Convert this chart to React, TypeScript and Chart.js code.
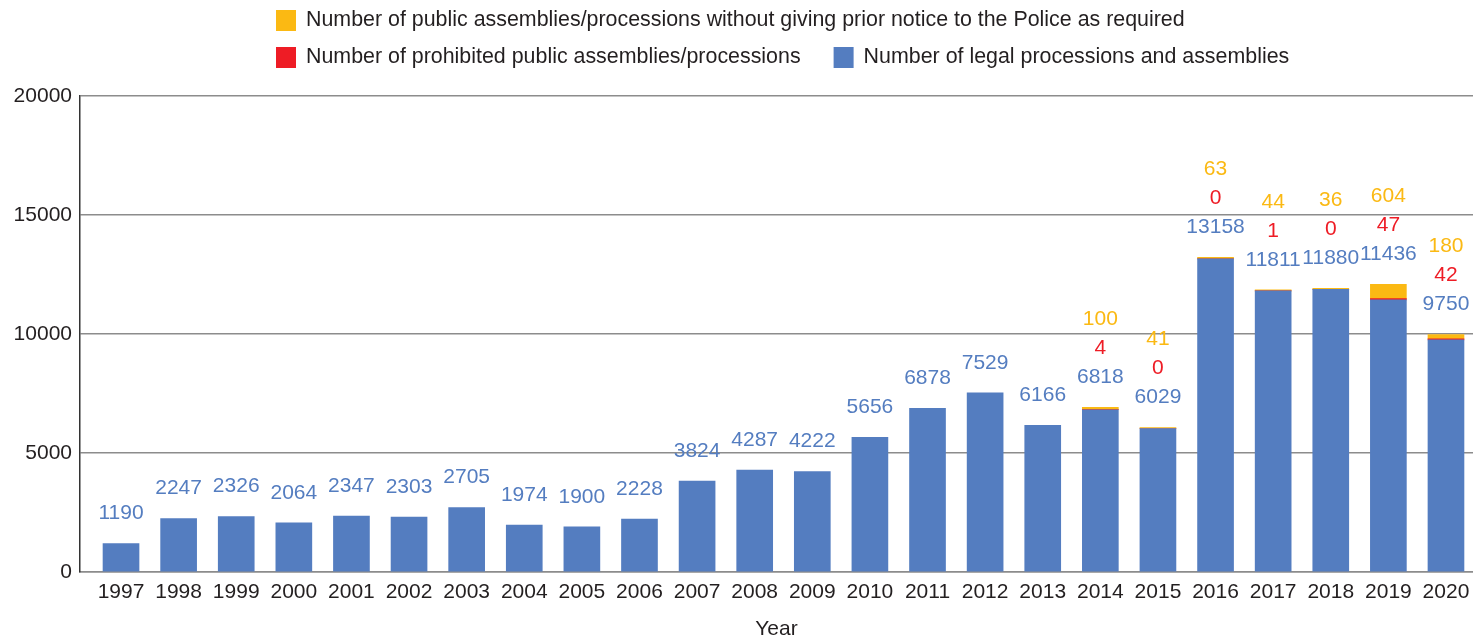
import React, { useEffect, useRef } from "react";
import { Chart, registerables } from "chart.js";

Chart.register(...registerables);

const years = [1997, 1998, 1999, 2000, 2001, 2002, 2003, 2004, 2005, 2006, 2007, 2008, 2009, 2010, 2011, 2012, 2013, 2014, 2015, 2016, 2017, 2018, 2019, 2020];
const legal = [1190, 2247, 2326, 2064, 2347, 2303, 2705, 1974, 1900, 2228, 3824, 4287, 4222, 5656, 6878, 7529, 6166, 6818, 6029, 13158, 11811, 11880, 11436, 9750];
const prohibited = [null, null, null, null, null, null, null, null, null, null, null, null, null, null, null, null, null, 4, 0, 0, 1, 0, 47, 42];
const noNotice = [null, null, null, null, null, null, null, null, null, null, null, null, null, null, null, null, null, 100, 41, 63, 44, 36, 604, 180];
const yTicks = [0, 5000, 10000, 15000, 20000];

const BLUE = "#547dc0";
const RED = "#ee1c25";
const ORANGE = "#fbb913";
const TEXT = "#231f20";
const FONT = "'Liberation Sans', Arial, Helvetica, sans-serif";
const FS = 21;
const LEGEND_FS = 21.4;

const labels = {
  legal: "Number of legal processions and assemblies",
  prohibited: "Number of prohibited public assemblies/processions",
  noNotice: "Number of public assemblies/processions without giving prior notice to the Police as required",
};

const valueLabelPlugin = {
  id: "valueLabels",
  afterDatasetsDraw(chart: any) {
    const ctx = chart.ctx;
    const xs = chart.scales.x;
    const ys = chart.scales.y;
    ctx.save();
    ctx.font = `${FS}px ${FONT}`;
    ctx.textAlign = "center";
    ctx.textBaseline = "middle";
    years.forEach((yr, i) => {
      const total = (legal[i] || 0) + (prohibited[i] || 0) + (noNotice[i] || 0);
      const x = xs.getPixelForValue(yr);
      let y = ys.getPixelForValue(total) - 30;
      ctx.fillStyle = BLUE;
      ctx.fillText(String(legal[i]), x, y);
      if (prohibited[i] !== null) {
        y -= 29;
        ctx.fillStyle = RED;
        ctx.fillText(String(prohibited[i]), x, y);
      }
      if (noNotice[i] !== null) {
        y -= 29;
        ctx.fillStyle = ORANGE;
        ctx.fillText(String(noNotice[i]), x, y);
      }
    });
    ctx.restore();
  },
};

const legendPlugin = {
  id: "customLegend",
  afterDraw(chart: any) {
    const ctx = chart.ctx;
    ctx.save();
    ctx.font = `${LEGEND_FS}px ${FONT}`;
    ctx.textBaseline = "middle";
    ctx.textAlign = "left";
    const rows = [
      [{ color: ORANGE, text: labels.noNotice }],
      [
        { color: RED, text: labels.prohibited },
        { color: BLUE, text: labels.legal },
      ],
    ];
    const rowY = [20, 57];
    rows.forEach((row, r) => {
      let x = 276;
      row.forEach((item) => {
        ctx.fillStyle = item.color;
        ctx.fillRect(x, rowY[r] - 10, 20, 21);
        ctx.fillStyle = TEXT;
        ctx.fillText(item.text, x + 30, rowY[r]);
        x += 30 + ctx.measureText(item.text).width + 33;
      });
    });
    ctx.restore();
  },
};

export default function App() {
  const ref = useRef<HTMLCanvasElement>(null);
  useEffect(() => {
    document.body.style.margin = "0";
    const canvas = ref.current!;
    const chart = new Chart(canvas, {
      type: "bar",
      data: {
        datasets: [
          {
            label: labels.legal,
            data: years.map((y, i) => ({ x: y, y: legal[i] })),
            backgroundColor: BLUE,
            barThickness: 36,
          },
          {
            label: labels.prohibited,
            data: years.map((y, i) => ({ x: y, y: prohibited[i] })),
            backgroundColor: RED,
            barThickness: 36,
          },
          {
            label: labels.noNotice,
            data: years.map((y, i) => ({ x: y, y: noNotice[i] })),
            backgroundColor: ORANGE,
            barThickness: 36,
          },
        ],
      } as any,
      options: {
        animation: false,
        responsive: false,
        maintainAspectRatio: false,
        layout: { padding: { top: 96, left: 0, right: 0, bottom: 0 } },
        plugins: {
          legend: { display: false },
          tooltip: { enabled: false },
        },
        scales: {
          x: {
            type: "linear",
            stacked: true,
            offset: false,
            bounds: "ticks",
            min: 1996.288,
            max: 2020.469,
            afterBuildTicks: (scale: any) => {
              scale.ticks = years.map((v) => ({ value: v }));
            },
            afterFit: (scale: any) => {
              scale.height = 68;
              scale.paddingLeft = 0;
              scale.paddingRight = 0;
            },
            grid: { display: false, drawTicks: false, offset: false },
            border: { display: true, color: "#8c8c8c", width: 1.5 },
            ticks: {
              padding: 8,
              color: TEXT,
              font: { family: FONT, size: FS },
              maxRotation: 0,
              autoSkip: false,
              callback: (v: any) => String(v),
            },
            title: {
              display: true,
              text: "Year",
              color: TEXT,
              font: { family: FONT, size: FS },
              padding: { top: 0, bottom: -2 },
            },
          },
          y: {
            stacked: true,
            min: 0,
            max: 20000,
            afterBuildTicks: (scale: any) => {
              scale.ticks = yTicks.map((v) => ({ value: v }));
            },
            afterFit: (scale: any) => {
              scale.width = 80;
              scale.paddingTop = 0;
              scale.paddingBottom = 0;
            },
            grid: { color: "#8c8c8c", lineWidth: 1.5, drawTicks: false },
            border: { display: true, color: "#333333", width: 1.5 },
            ticks: {
              padding: 8,
              color: TEXT,
              font: { family: FONT, size: FS },
              callback: (v: any) => String(v),
            },
          },
        },
      } as any,
      plugins: [valueLabelPlugin, legendPlugin],
    });
    return () => chart.destroy();
  }, []);
  return (
    <div style={{ width: 1473, height: 640 }}>
      <canvas ref={ref} width={1473} height={640} style={{ display: "block" }} />
    </div>
  );
}
